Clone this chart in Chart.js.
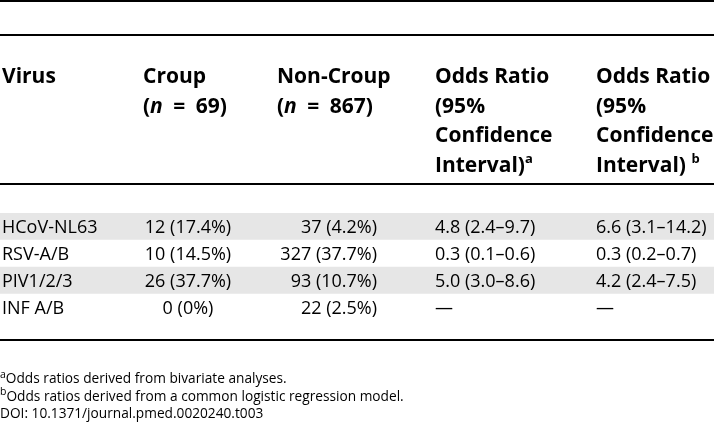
<!DOCTYPE html>
<html>
<head>
<meta charset="utf-8">
<script src="https://cdn.jsdelivr.net/npm/chart.js@4.4.0/dist/chart.umd.min.js"></script>
<style>
  html, body { margin: 0; padding: 0; background: #fff; }
  #tbl { display: block; }
</style>
</head>
<body>
<canvas id="tbl" width="714" height="430"></canvas>
<script>
// table data
var viruses = ['HCoV-NL63', 'RSV-A/B', 'PIV1/2/3', 'INF A/B'];
var croupN = 69;
var nonCroupN = 867;
var croupCount = [12, 10, 26, 0];
var croupPct = [17.4, 14.5, 37.7, 0];
var nonCroupCount = [37, 327, 93, 22];
var nonCroupPct = [4.2, 37.7, 10.7, 2.5];
var orBivariate = [4.8, 0.3, 5.0, null];
var orBivariateLo = [2.4, 0.1, 3.0, null];
var orBivariateHi = [9.7, 0.6, 8.6, null];
var orLogistic = [6.6, 0.3, 4.2, null];
var orLogisticLo = [3.1, 0.2, 2.4, null];
var orLogisticHi = [14.2, 0.7, 7.5, null];
var footnotes = [
  '^aOdds ratios derived from bivariate analyses.',
  '^bOdds ratios derived from a common logistic regression model.',
  'DOI: 10.1371/journal.pmed.0020240.t003'
];

var FONT = '"Open Sans", "Noto Sans", sans-serif';

function pct(v) { return v === 0 ? '0%' : v.toFixed(1) + '%'; }
function countCell(n, p) { return n + ' (' + pct(p) + ')'; }
function orCell(v, lo, hi) {
  if (v === null) return '\u2014';
  return v.toFixed(1) + ' (' + lo.toFixed(1) + '\u2013' + hi.toFixed(1) + ')';
}

var headers = [
  ['Virus'],
  ['Croup', '(*n*\u2002=\u2002' + croupN + ')'],
  ['Non-Croup', '(*n*\u2002=\u2002' + nonCroupN + ')'],
  ['Odds Ratio', '(95%', 'Confidence', 'Interval)^a'],
  ['Odds Ratio', '(95%', 'Confidence', 'Interval) ^b']
];

// split "text *italic* ^s" into runs
function parseRuns(s) {
  var runs = [], italic = false, buf = '';
  for (var i = 0; i < s.length; i++) {
    var c = s[i];
    if (c === '*') {
      if (buf) runs.push({t: buf, it: italic, sup: false});
      buf = ''; italic = !italic;
    } else if (c === '^') {
      if (buf) runs.push({t: buf, it: italic, sup: false});
      buf = '';
      runs.push({t: s[i + 1], it: italic, sup: true});
      i++;
    } else buf += c;
  }
  if (buf) runs.push({t: buf, it: italic, sup: false});
  return runs;
}

function drawRuns(ctx, s, x, y, size, bold, supSize) {
  var runs = parseRuns(s);
  ctx.textAlign = 'left';
  ctx.textBaseline = 'alphabetic';
  runs.forEach(function(r) {
    var sz = r.sup ? supSize : size;
    ctx.font = (r.it ? 'italic ' : '') + (bold ? 'bold ' : '') + sz + 'px ' + FONT;
    ctx.fillText(r.t, x, r.sup ? y - size * 0.4 : y);
    x += ctx.measureText(r.t).width;
  });
}

var tablePlugin = {
  id: 'tableText',
  afterDatasetsDraw: function(chart) {
    var ctx = chart.ctx;
    var yScale = chart.scales.y;
    var W = chart.width;
    ctx.save();
    ctx.fillStyle = '#000';

    // rules
    ctx.fillRect(0, 0, W, 2);
    ctx.fillRect(0, 34, W, 2);
    ctx.fillRect(0, 183, W, 2);
    ctx.fillRect(0, 339, W, 2);

    // header
    var headX = [2, 143, 277, 435, 596];
    headers.forEach(function(lines, c) {
      lines.forEach(function(line, k) {
        drawRuns(ctx, line, headX[c], 83 + k * 29.5, 21, true, 13);
      });
    });

    // body
    ctx.font = '18px ' + FONT;
    ctx.textBaseline = 'alphabetic';
    viruses.forEach(function(v, i) {
      var y = yScale.getPixelForValue(i) + 6.5;
      ctx.textAlign = 'left';
      ctx.fillText(v, 2, y);
      ctx.textAlign = 'center';
      ctx.fillText(countCell(croupCount[i], croupPct[i]), 188, y);
      ctx.textAlign = 'right';
      ctx.fillText(countCell(nonCroupCount[i], nonCroupPct[i]), 377, y);
      ctx.textAlign = 'left';
      ctx.fillText(orCell(orBivariate[i], orBivariateLo[i], orBivariateHi[i]), 435, y);
      ctx.fillText(orCell(orLogistic[i], orLogisticLo[i], orLogisticHi[i]), 596, y);
    });

    // footnotes
    footnotes.forEach(function(f, k) {
      drawRuns(ctx, f, 0, 383 + k * 17.5, 13.7, false, 10.5);
    });
    ctx.restore();
  }
};

function build() {
  var ctx = document.getElementById('tbl').getContext('2d');
  new Chart(ctx, {
    type: 'bar',
    data: {
      labels: viruses,
      datasets: [{
        // row shading bands
        data: viruses.map(function() { return [0, 1]; }),
        backgroundColor: viruses.map(function(v, i) { return i % 2 === 0 ? '#e6e6e6' : '#ffffff'; }),
        borderWidth: 0,
        categoryPercentage: 1,
        barPercentage: 1
      }]
    },
    options: {
      indexAxis: 'y',
      responsive: false,
      animation: false,
      devicePixelRatio: 1,
      layout: { padding: { top: 213, bottom: 109, left: 0, right: 0 } },
      scales: {
        x: { display: false, min: 0, max: 1 },
        y: { display: false }
      },
      plugins: {
        legend: { display: false },
        tooltip: { enabled: false }
      }
    },
    plugins: [tablePlugin]
  });
}

Promise.all([
  document.fonts.load('18px "Open Sans"'),
  document.fonts.load('bold 21px "Open Sans"'),
  document.fonts.load('italic bold 21px "Open Sans"')
]).then(build, build);
</script>
</body>
</html>
